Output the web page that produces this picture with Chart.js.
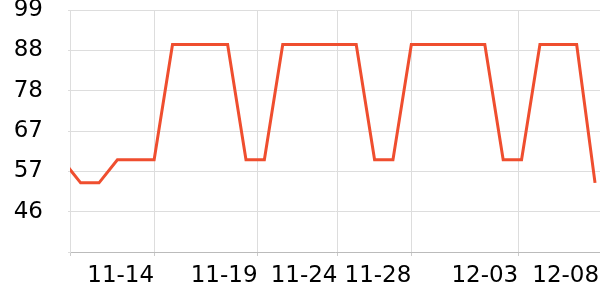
<!DOCTYPE html>
<html>
<head>
<meta charset="utf-8">
<script src="https://cdn.jsdelivr.net/npm/chart.js@4/dist/chart.umd.min.js"></script>
<style>
  html, body { margin: 0; padding: 0; background: #fff; }
  #wrap { width: 600px; height: 300px; }
</style>
</head>
<body>
<div id="wrap"><canvas id="myChart"></canvas></div>
<script>
// datos: un punto por dia, 11-09 .. 12-08
const dias = ['11-09','11-10','11-11','11-12','11-13','11-14','11-15','11-16','11-17','11-18',
  '11-19','11-20','11-21','11-22','11-23','11-24','11-25','11-26','11-27','11-28',
  '11-29','11-30','12-01','12-02','12-03','12-04','12-05','12-06','12-07','12-08'];
const valores = [60, 54, 54, 60, 60, 60, 90, 90, 90, 90,
  60, 60, 90, 90, 90, 90, 90, 60, 60, 90,
  90, 90, 90, 90, 60, 60, 90, 90, 90, 54];

// etiquetas del eje x (posicion en dias desde 11-09)
const xTickPos = [0.42, 5, 10.63, 14.98, 19, 24.82, 29.22];
const xTickLabels = ['', '11-14', '11-19', '11-24', '11-28', '12-03', '12-08'];

// eje y
const yTicks = [36, 46.5, 57, 67.5, 78, 88.5, 99];
const yTickLabels = ['', '46', '57', '67', '78', '88', '99'];

let lineColor = '#ef4e2f';
let gridColor = '#dddddd';
let hidden = 'rgba(0,0,0,0)';

const ctx = document.getElementById('myChart');

new Chart(ctx, {
  type: 'line',
  data: {
    datasets: [{
      data: valores.map((v, i) => ({ x: i, y: v })),
      borderColor: lineColor,
      borderWidth: 3,
      pointRadius: 0,
      tension: 0,
      fill: false
    }]
  },
  options: {
    responsive: true,
    maintainAspectRatio: false,
    animation: false,
    layout: { padding: { top: 10, right: 0, left: 0, bottom: 0 } },
    plugins: {
      legend: { display: false },
      tooltip: { enabled: false }
    },
    scales: {
      x: {
        type: 'linear',
        min: 0.42,
        max: 29.27,
        afterBuildTicks: (scale) => {
          scale.ticks = xTickPos.map(v => ({ value: v }));
        },
        afterFit: (scale) => {
          scale.height = 48;
          scale.paddingLeft = 0;
          scale.paddingRight = 0;
        },
        grid: {
          color: (c) => (c.index === xTickPos.length - 1 ? hidden : gridColor),
          tickLength: 4,
          tickColor: (c) => (c.index === xTickPos.length - 1 ? hidden : '#cccccc')
        },
        border: { color: '#bbbbbb' },
        ticks: {
          autoSkip: false,
          maxRotation: 0,
          align: 'end',
          padding: 6,
          color: '#000',
          font: { family: 'DejaVu Sans', size: 23 },
          callback: (v, i) => xTickLabels[i]
        }
      },
      y: {
        min: 36,
        max: 99,
        afterBuildTicks: (scale) => {
          scale.ticks = yTicks.map(v => ({ value: v }));
        },
        afterFit: (scale) => {
          scale.width = 70;
          scale.paddingTop = 0;
          scale.paddingBottom = 0;
        },
        grid: {
          color: gridColor,
          tickLength: 2
        },
        border: { color: gridColor },
        ticks: {
          padding: 25,
          color: '#000',
          font: { family: 'DejaVu Sans', size: 23 },
          callback: (v, i) => yTickLabels[i]
        }
      }
    }
  }
});
</script>
</body>
</html>
